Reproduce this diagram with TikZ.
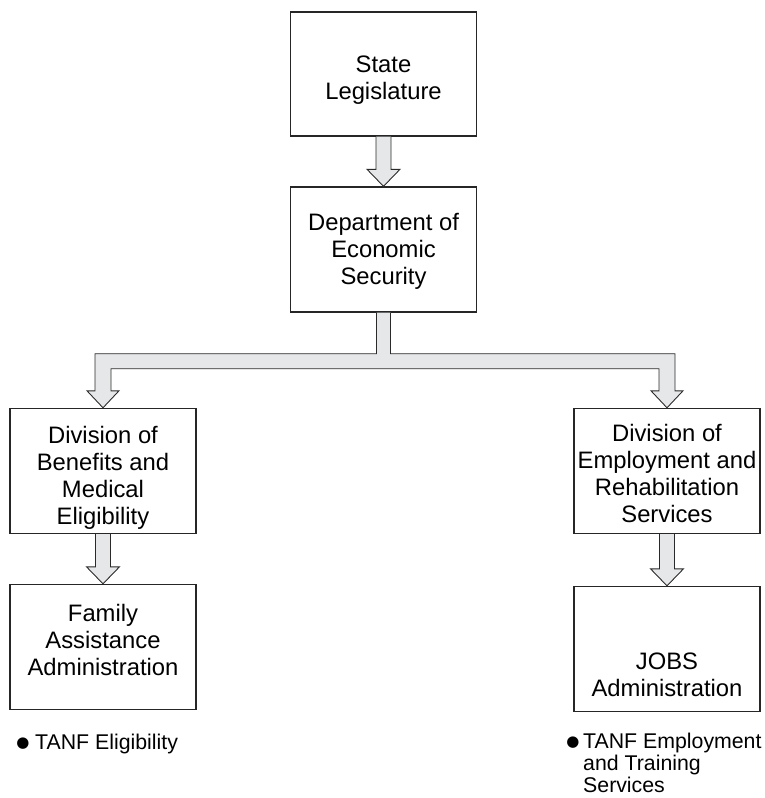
\documentclass[tikz,border=0pt]{standalone}
\usepackage{fontspec}
\setmainfont{Liberation Sans}
\newfontfamily\dejavu{DejaVu Sans}
\usetikzlibrary{calc}
\definecolor{boxline}{HTML}{262626}
\definecolor{arrowfill}{HTML}{E6E7E8}
\definecolor{arrowline}{HTML}{2A2A2A}
\tikzset{
  orgbox/.style={draw=boxline, line width=1.4pt, minimum width=186pt, minimum height=125pt,
    inner sep=0pt},
  boxtext/.style={inner sep=0pt, align=center, font=\fontsize{23.8}{27}\selectfont},
  blockarr/.style={fill=arrowfill, draw=arrowline, line width=0.9pt, line join=miter},
  bullettext/.style={inner sep=0pt, align=left, font=\fontsize{21.3}{22.2}\selectfont},
  bulletdot/.style={inner sep=0pt, font=\dejavu\fontsize{15}{15}\selectfont}
}
\begin{document}
\begin{tikzpicture}[x=1pt,y=-1pt]
\useasboundingbox (0,0) rectangle (765,798);

\node[orgbox, minimum height=124pt] (sl) at (383.5,74) {};
\node[orgbox] (dept) at (383.5,249.5) {};
\node[orgbox] (div1) at (103,471) {};
\node[orgbox] (div2) at (667,471) {};
\node[orgbox] (fam) at (103,647) {};
\node[orgbox] (jobs) at (667,649) {};

\node[boxtext] (slt) at (383.5,80.5) {State\\Legislature};
\node[boxtext] (deptt) at (383.5,251.5) {Department of\\Economic\\Security};
\node[boxtext] (div1t) at (103,478) {Division of\\Benefits and\\Medical\\Eligibility};
\node[boxtext] (div2t) at (667,473.5) {Division of\\Employment and\\Rehabilitation\\Services};
\node[boxtext] (famt) at (103,640) {Family\\Assistance\\Administration};
\node[boxtext] (jobst) at (667,675) {JOBS\\Administration};

% bullets
\node[bulletdot] (b1) at (23,744) {●};
\node[bullettext, anchor=west] (t1) at (35,744) {TANF Eligibility};
\node[bulletdot] (b2) at (573,742.5) {●};
\node[bullettext, anchor=north west, text depth=0pt] (t2) at (583,732.5) {TANF Employment\\and Training\\Services};

% block arrows (straight down)
\foreach \a/\b in {sl/dept, div1/fam, div2/jobs}{
  \filldraw[blockarr] let \p1=(\a.south), \p2=(\b.north) in
    (\x1-7.5pt,\y1) -- (\x1-7.5pt,\y2+17pt) -- (\x1-16.5pt,\y2+17pt) -- (\x1,\y2)
    -- (\x1+16.5pt,\y2+17pt) -- (\x1+7.5pt,\y2+17pt) -- (\x1+7.5pt,\y1);
}

% T-shaped block arrow
\filldraw[blockarr] let \p1=(dept.south), \p2=(div1.north), \p3=(div2.north) in
  (\x1-7pt,\y1) -- (\x1-7pt,\y1-41pt) -- (\x2-8pt,\y1-41pt) -- (\x2-8pt,\y2+17pt)
  -- (\x2-16pt,\y2+17pt) -- (\x2,\y2) -- (\x2+16pt,\y2+17pt) -- (\x2+8pt,\y2+17pt)
  -- (\x2+8pt,\y1-56pt) -- (\x3-8pt,\y1-56pt) -- (\x3-8pt,\y3+17pt)
  -- (\x3-16pt,\y3+17pt) -- (\x3,\y3) -- (\x3+16pt,\y3+17pt) -- (\x3+8pt,\y3+17pt)
  -- (\x3+8pt,\y1-41pt) -- (\x1+7pt,\y1-41pt) -- (\x1+7pt,\y1);
\end{tikzpicture}
\end{document}
